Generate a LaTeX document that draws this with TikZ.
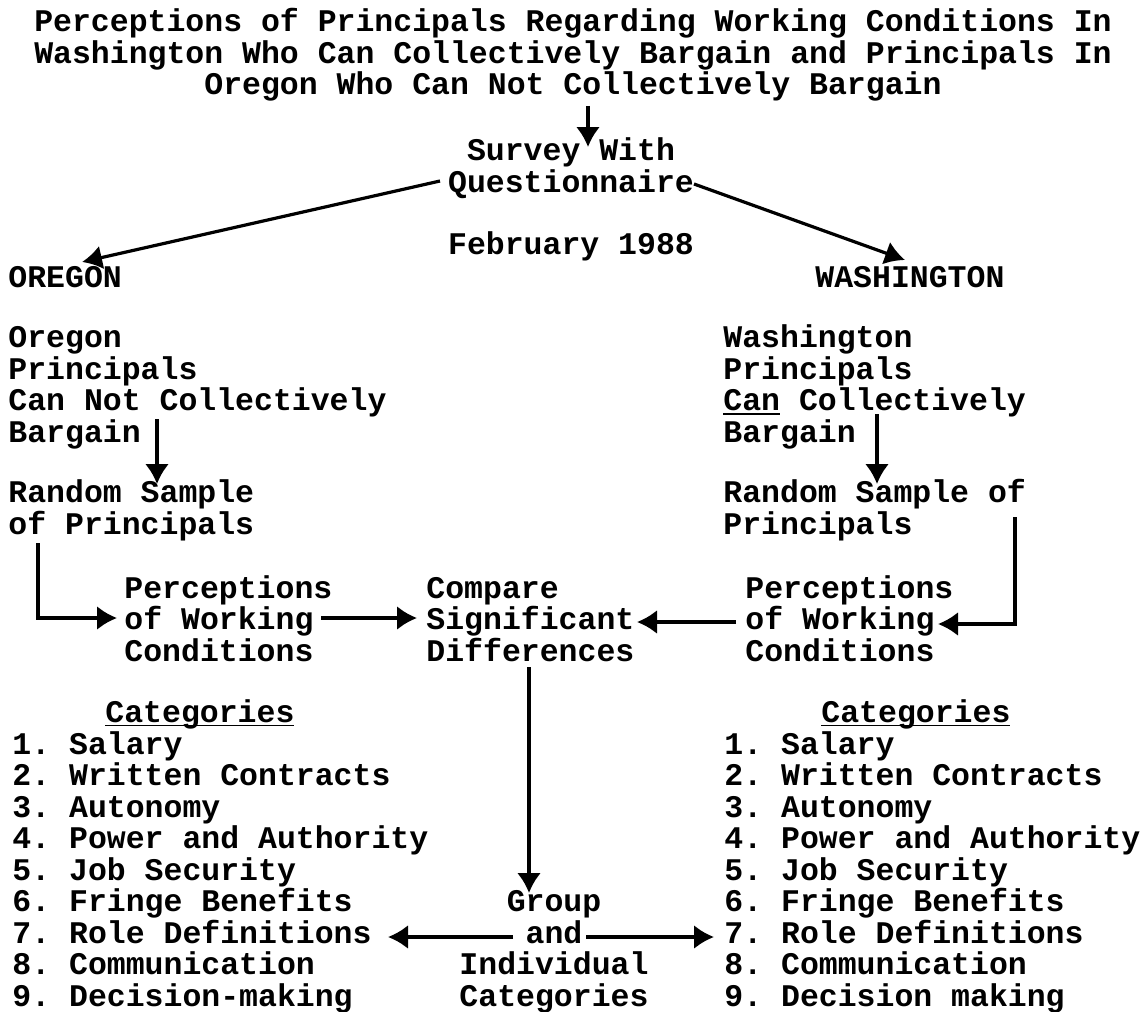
\documentclass[tikz,border=0pt]{standalone}
\usepackage{fontspec}
\setmonofont{Liberation Mono}
\usetikzlibrary{arrows.meta}

% typed underline, sits just under the baseline
\newlength{\ulwd}
\newcommand{\typeul}[1]{\settowidth{\ulwd}{#1}\rlap{\rule[-2.2pt]{\ulwd}{0.9pt}}#1}

\begin{document}
\begin{tikzpicture}[
  x=0.5pt, y=-0.5pt,
  font=\ttfamily\bfseries\fontsize{15.75}{15.75}\selectfont,
  txt/.style={anchor=base west, inner sep=0pt, align=left},
  ctr/.style={anchor=base, inner sep=0pt, align=center},
  flow/.style={-{Latex[length=10pt,width=12pt]}, line width=1.6pt},
]
\useasboundingbox (0,0) rectangle (1144,1011);
\fill[white] (0,0) rectangle (1144,1011);

% Title and survey (multi-line nodes sit on their last baseline)
\node[ctr] (title) at (573,95) {Perceptions of Principals Regarding Working Conditions In\\Washington Who Can Collectively Bargain and Principals In\\Oregon Who Can Not Collectively Bargain};
\node[ctr] (survey) at (571,192) {Survey With\\Questionnaire};
\node[ctr] (feb) at (571,254) {February 1988};

% The two states
\node[txt] (oregon) at (8,287) {OREGON};
\node[txt] (washington) at (815,287) {WASHINGTON};
\node[txt] (orprin) at (8,442) {Oregon\\Principals\\Can Not Collectively\\Bargain};
\node[txt] (waprin) at (723,442) {Washington\\Principals\\\typeul{Can} Collectively\\Bargain};
\node[txt] (orsample) at (8,534) {Random Sample\\of Principals};
\node[txt] (wasample) at (723,534) {Random Sample of\\Principals};

% Perceptions row
\node[txt] (orperc) at (124,661) {Perceptions\\of Working\\Conditions};
\node[txt] (compare) at (426,661) {Compare\\Significant\\Differences};
\node[txt] (waperc) at (745,661) {Perceptions\\of Working\\Conditions};

% Category lists
\node[txt] (orcathead) at (105,722) {\typeul{Categories}};
\node[txt] (wacathead) at (821,722) {\typeul{Categories}};
\node[txt] (orcats) at (12,1006) {1. Salary\\2. Written Contracts\\3. Autonomy\\4. Power and Authority\\5. Job Security\\6. Fringe Benefits\\7. Role Definitions\\8. Communication\\9. Decision-making};
\node[txt] (wacats) at (724,1006) {1. Salary\\2. Written Contracts\\3. Autonomy\\4. Power and Authority\\5. Job Security\\6. Fringe Benefits\\7. Role Definitions\\8. Communication\\9. Decision making};
\node[ctr] (group) at (554,1006) {Group\\and\\Individual\\Categories};

% Connector ends
\coordinate (titlefoot) at (588,106);  \coordinate (surveytop) at (588,147);
\coordinate (qleft) at (440,181);      \coordinate (ortip) at (82,262);
\coordinate (qright) at (694,184);     \coordinate (watip) at (905,260);
\coordinate (orbarg) at (157,419);     \coordinate (orrand) at (157,484);
\coordinate (wabarg) at (877,414);     \coordinate (warand) at (877,484);
\coordinate (orfoot) at (38,543);      \coordinate (orpin) at (117,618);
\coordinate (wafoot) at (1015,517);    \coordinate (wapin) at (938,624);
\coordinate (orwork) at (321,618);     \coordinate (cmpleft) at (417,618);
\coordinate (wawork) at (736,622);     \coordinate (cmpright) at (637,622);
\coordinate (difffoot) at (529,667);   \coordinate (grouptop) at (529,893);
\coordinate (andleft) at (513,937);    \coordinate (roleleft) at (388,937);
\coordinate (andright) at (586,937);   \coordinate (roleright) at (714,937);

% Arrows
\draw[flow] (titlefoot) -- (surveytop);
\draw[flow] (qleft) -- (ortip);
\draw[flow] (qright) -- (watip);
\draw[flow] (orbarg) -- (orrand);
\draw[flow] (wabarg) -- (warand);
\draw[flow] (orfoot) |- (orpin);
\draw[flow] (wafoot) |- (wapin);
\draw[flow] (orwork) -- (cmpleft);
\draw[flow] (wawork) -- (cmpright);
\draw[flow] (difffoot) -- (grouptop);
\draw[flow] (andleft) -- (roleleft);
\draw[flow] (andright) -- (roleright);

\end{tikzpicture}
\end{document}
